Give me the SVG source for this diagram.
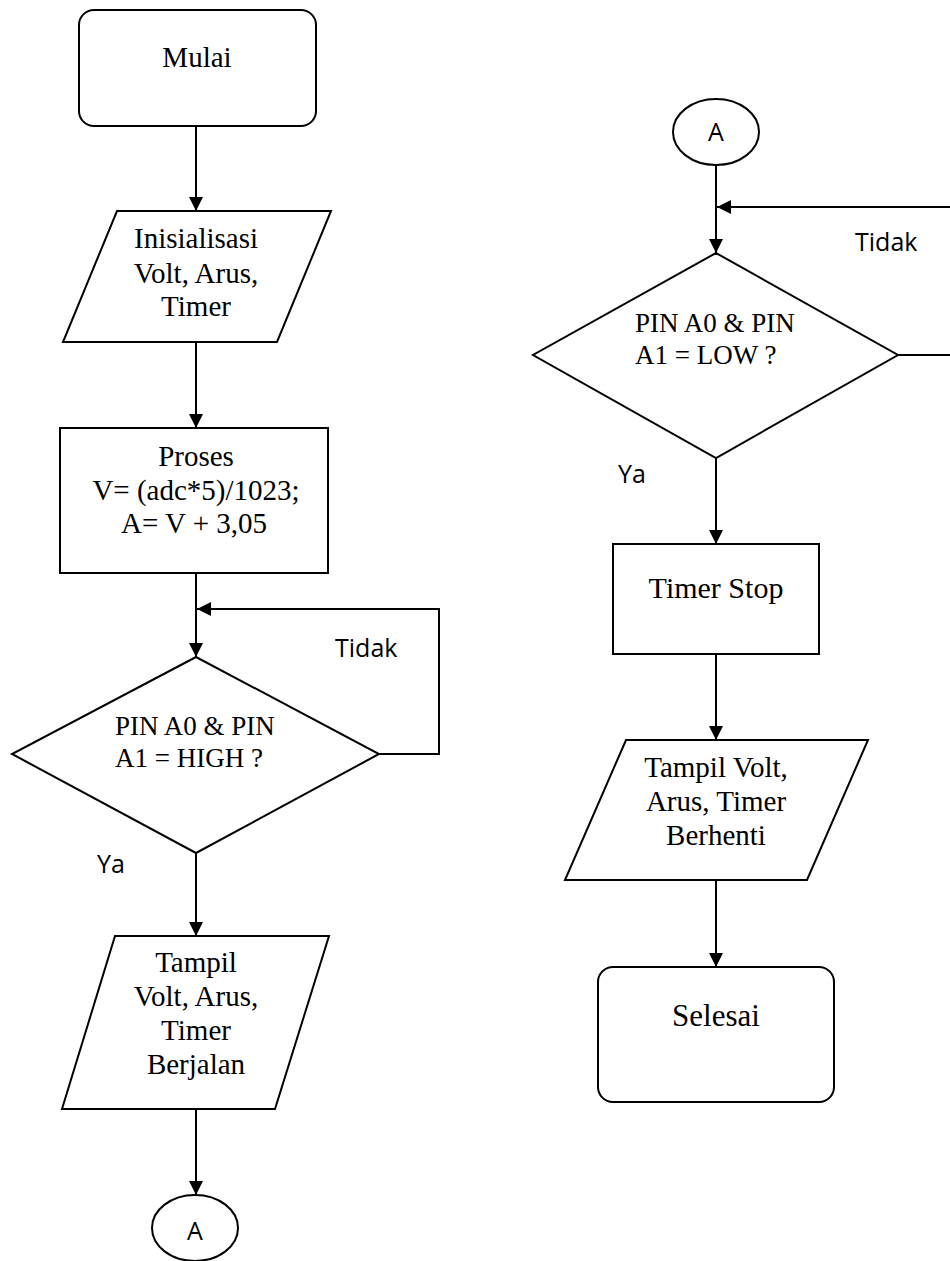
<svg xmlns="http://www.w3.org/2000/svg" width="950" height="1261" viewBox="0 0 950 1261">
<style>
.s{fill:#fff;stroke:#000;stroke-width:2}
.c{fill:none;stroke:#000;stroke-width:2}
.t{font-family:"Liberation Serif","Times New Roman",serif;font-size:29px;fill:#000;text-anchor:middle}
.ts{font-family:"Liberation Serif","Times New Roman",serif;font-size:27px;fill:#000}
.l{font-family:"Open Sans","Noto Sans",sans-serif;font-size:25px;fill:#000}
.a{font-family:"Open Sans","Noto Sans",sans-serif;font-size:25px;fill:#000;text-anchor:middle}
</style>
<defs>
<marker id="ar" markerUnits="userSpaceOnUse" markerWidth="14" markerHeight="14" refX="14" refY="7" orient="auto" viewBox="0 0 14 14">
<path d="M0,0 L14,7 L0,14 z" fill="#000"/>
</marker>
</defs>
<rect width="950" height="1261" fill="#fff"/>
<g id="connectors">
<line class="c" x1="196" y1="126" x2="196" y2="211" marker-end="url(#ar)"/>
<line class="c" x1="196" y1="342" x2="196" y2="428" marker-end="url(#ar)"/>
<line class="c" x1="196" y1="573" x2="196" y2="657" marker-end="url(#ar)"/>
<polyline class="c" points="379,754 439,754 439,609 197,609" marker-end="url(#ar)"/>
<line class="c" x1="196" y1="853" x2="196" y2="936" marker-end="url(#ar)"/>
<line class="c" x1="196" y1="1109" x2="196" y2="1195" marker-end="url(#ar)"/>
<line class="c" x1="716" y1="165" x2="716" y2="253" marker-end="url(#ar)"/>
<line class="c" x1="898" y1="355" x2="952" y2="355"/>
<line class="c" x1="952" y1="207" x2="717" y2="207" marker-end="url(#ar)"/>
<line class="c" x1="716" y1="458" x2="716" y2="544" marker-end="url(#ar)"/>
<line class="c" x1="716" y1="654" x2="716" y2="740" marker-end="url(#ar)"/>
<line class="c" x1="716" y1="880" x2="716" y2="967" marker-end="url(#ar)"/>
<text class="l" x="335" y="657">Tidak</text>
<text class="l" x="97" y="873">Ya</text>
<text class="l" x="855" y="251">Tidak</text>
<text class="l" x="618" y="483">Ya</text>
</g>
<g id="mulai">
<rect class="s" x="79" y="10" width="237" height="116" rx="15"/>
<text class="t" x="197" y="67">Mulai</text>
</g>
<g id="inisialisasi">
<polygon class="s" points="117,211 331,211 277,342 63,342"/>
<text class="t" x="196" y="248">Inisialisasi</text>
<text class="t" x="196" y="283">Volt, Arus,</text>
<text class="t" x="196" y="316">Timer</text>
</g>
<g id="proses">
<rect class="s" x="60" y="428" width="268" height="145"/>
<text class="t" x="196" y="466">Proses</text>
<text class="t" x="196" y="500">V= (adc*5)/1023;</text>
<text class="t" x="194" y="533">A= V + 3,05</text>
</g>
<g id="cek-high">
<polygon class="s" points="196,657 379,754 196,853 12,754"/>
<text class="ts" x="115" y="735">PIN A0 &amp; PIN</text>
<text class="ts" x="115" y="767">A1 = HIGH ?</text>
</g>
<g id="tampil-berjalan">
<polygon class="s" points="115,936 329,936 275,1109 62,1109"/>
<text class="t" x="196" y="972">Tampil</text>
<text class="t" x="196" y="1006">Volt, Arus,</text>
<text class="t" x="196" y="1040">Timer</text>
<text class="t" x="196" y="1074">Berjalan</text>
</g>
<g id="konektor-a-1">
<ellipse class="s" cx="195" cy="1228" rx="43" ry="33"/>
<text class="a" x="195" y="1240">A</text>
</g>
<g id="konektor-a-2">
<ellipse class="s" cx="716" cy="132" rx="43" ry="33"/>
<text class="a" x="716" y="141">A</text>
</g>
<g id="cek-low">
<polygon class="s" points="716,253 898,355 716,458 533,355"/>
<text class="ts" x="635" y="332">PIN A0 &amp; PIN</text>
<text class="ts" x="635" y="364">A1 = LOW ?</text>
</g>
<g id="timer-stop">
<rect class="s" x="613" y="544" width="206" height="110"/>
<text class="t" x="716" y="598" style="font-size:30px">Timer Stop</text>
</g>
<g id="tampil-berhenti">
<polygon class="s" points="626,740 868,740 807,880 565,880"/>
<text class="t" x="716" y="777">Tampil Volt,</text>
<text class="t" x="716" y="811">Arus, Timer</text>
<text class="t" x="716" y="845">Berhenti</text>
</g>
<g id="selesai">
<rect class="s" x="598" y="967" width="236" height="135" rx="15"/>
<text class="t" x="716" y="1026" style="font-size:31px">Selesai</text>
</g>
</svg>
